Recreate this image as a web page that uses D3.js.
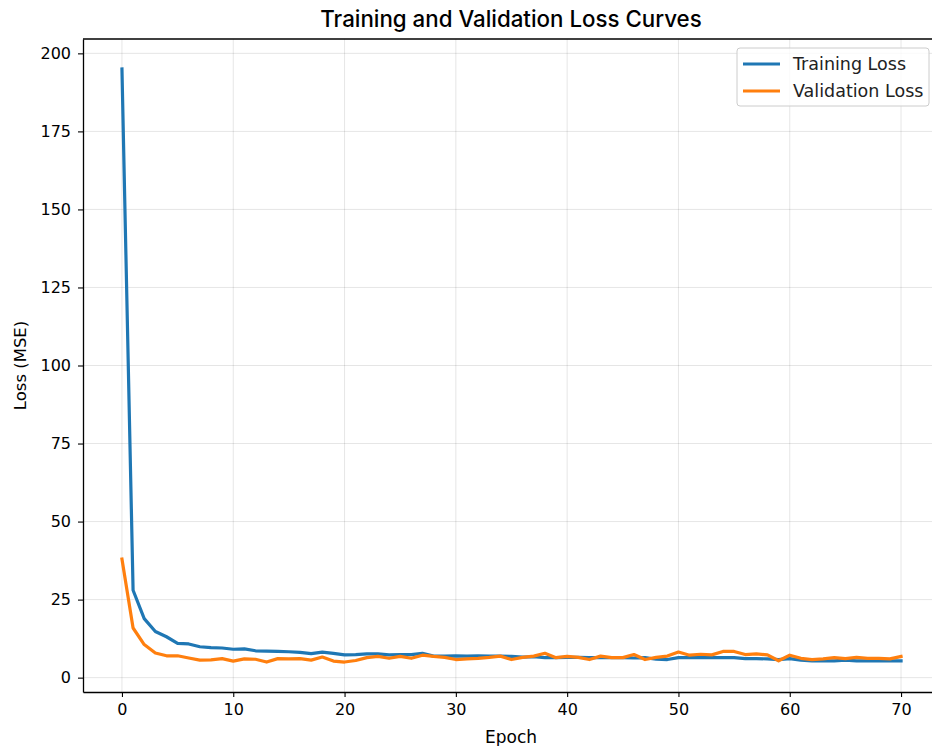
<!DOCTYPE html>
<html>
<head>
<meta charset="utf-8">
<script src="https://cdn.jsdelivr.net/npm/d3@7"></script>
<style>
  body { margin: 0; background: #fff; }
  svg { display: block; font-family: "DejaVu Sans", sans-serif; }
  .grid line { stroke: #000; stroke-opacity: 0.1; }
  .axis text { font-size: 16px; font-family: "DejaVu Sans", sans-serif; fill: #000; }
  .axis line, .axis path { stroke: #000; }
</style>
</head>
<body>
<div id="chart"></div>
<script>
const epochs = d3.range(0, 71)

const trainLoss = [
  195.0, 28.0, 18.9, 14.8, 13.1, 11.0, 10.8, 9.9, 9.6, 9.5,
  9.1, 9.2, 8.6, 8.5, 8.4, 8.3, 8.1, 7.7, 8.2, 7.8,
  7.3, 7.4, 7.6, 7.6, 7.3, 7.4, 7.4, 7.8, 6.9, 6.9,
  7.0, 6.9, 7.0, 6.9, 6.9, 6.8, 6.6, 6.7, 6.4, 6.4,
  6.5, 6.5, 6.4, 6.4, 6.4, 6.4, 6.3, 6.4, 5.9, 5.8,
  6.4, 6.4, 6.4, 6.4, 6.4, 6.4, 6.1, 6.1, 6.0, 5.8,
  6.1, 5.6, 5.4, 5.4, 5.4, 5.6, 5.4, 5.4, 5.4, 5.4,
  5.4
]

const valLoss = [
  38.0, 15.9, 10.6, 7.9, 7.0, 7.0, 6.3, 5.6, 5.7, 6.1,
  5.3, 6.0, 5.9, 5.0, 6.1, 6.0, 6.1, 5.6, 6.6, 5.3,
  5.0, 5.5, 6.4, 6.8, 6.2, 6.8, 6.2, 7.2, 6.8, 6.5,
  5.8, 6.0, 6.2, 6.5, 6.9, 5.8, 6.5, 6.9, 7.8, 6.4,
  6.8, 6.5, 5.8, 6.9, 6.4, 6.4, 7.4, 5.8, 6.5, 6.9,
  8.2, 7.2, 7.5, 7.3, 8.4, 8.4, 7.4, 7.6, 7.3, 5.4,
  7.2, 6.2, 5.8, 6.0, 6.4, 6.1, 6.5, 6.2, 6.2, 6.0,
  6.8
]

const xTicks = [0, 10, 20, 30, 40, 50, 60, 70]
const yTicks = [0, 25, 50, 75, 100, 125, 150, 175, 200]

const series = [
  { name: "Training Loss", values: trainLoss, color: "#1f77b4" },
  { name: "Validation Loss", values: valLoss, color: "#ff7f0e" }
]

const width = 932, height = 746
const margin = { top: 39, right: -8, bottom: 54, left: 83 }

const svg = d3.select("#chart").append("svg")
  .attr("width", width)
  .attr("height", height)

const x = d3.scaleLinear().domain([-3.5, 73.5]).range([margin.left, width - margin.right])
const y = d3.scaleLinear().domain([-4.6, 204.6]).range([height - margin.bottom, margin.top])

// grid
svg.append("g").attr("class", "grid")
  .selectAll("line.v").data(xTicks).join("line")
  .attr("x1", d => x(d)).attr("x2", d => x(d))
  .attr("y1", margin.top).attr("y2", height - margin.bottom)
svg.select("g.grid")
  .selectAll("line.h").data(yTicks).join("line").attr("class", "h")
  .attr("x1", margin.left).attr("x2", width - margin.right)
  .attr("y1", d => y(d)).attr("y2", d => y(d))

// lines
const line = d3.line()
  .x((d, i) => x(epochs[i]))
  .y(d => y(d))

svg.append("g").selectAll("path").data(series).join("path")
  .attr("fill", "none")
  .attr("stroke", d => d.color)
  .attr("stroke-width", 3.2)
  .attr("stroke-linejoin", "round")
  .attr("stroke-linecap", "square")
  .attr("d", d => line(d.values))

// axes
svg.append("g").attr("class", "axis")
  .attr("transform", `translate(0,${height - margin.bottom})`)
  .call(d3.axisBottom(x).tickValues(xTicks).tickSize(5).tickPadding(7).tickSizeOuter(0))
svg.append("g").attr("class", "axis")
  .attr("transform", `translate(${margin.left},0)`)
  .call(d3.axisLeft(y).tickValues(yTicks).tickSize(5).tickPadding(7).tickSizeOuter(0))
svg.selectAll(".axis path").attr("stroke-width", 1.3)
svg.selectAll(".axis .tick line").attr("stroke-width", 1.1)

// top spine
svg.append("line")
  .attr("x1", margin.left).attr("x2", width)
  .attr("y1", margin.top).attr("y2", margin.top)
  .attr("stroke", "#000").attr("stroke-width", 1.3)

// title and labels
svg.append("text")
  .attr("x", 511).attr("y", 27)
  .attr("text-anchor", "middle")
  .style("font-family", "Inter, sans-serif")
  .style("font-weight", 500)
  .style("font-size", "22.3px")
  .text("Training and Validation Loss Curves")

svg.append("text")
  .attr("x", 511).attr("y", 743)
  .attr("text-anchor", "middle")
  .style("font-size", "17px")
  .text("Epoch")

svg.append("text")
  .attr("transform", `translate(26,${(margin.top + height - margin.bottom) / 2}) rotate(-90)`)
  .attr("text-anchor", "middle")
  .style("font-size", "16.5px")
  .text("Loss (MSE)")

// legend
const legend = svg.append("g").attr("transform", "translate(737,48)")
legend.append("rect")
  .attr("width", 192).attr("height", 58).attr("rx", 3)
  .attr("fill", "#fff").attr("fill-opacity", 0.8)
  .attr("stroke", "#ccc")
const items = legend.selectAll("g").data(series).join("g")
  .attr("transform", (d, i) => `translate(0,${16 + i * 27})`)
items.append("line")
  .attr("x1", 6).attr("x2", 43)
  .attr("stroke", d => d.color).attr("stroke-width", 3.2)
items.append("text")
  .attr("x", 56).attr("dy", "0.35em")
  .style("font-size", "17.5px")
  .style("fill", "#222")
  .text(d => d.name)
</script>
</body>
</html>
